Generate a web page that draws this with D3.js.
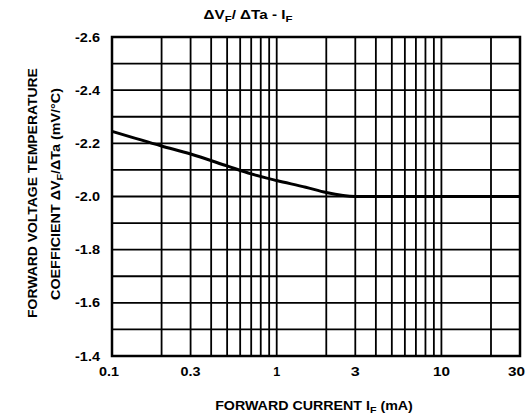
<!DOCTYPE html>
<html><head><meta charset="utf-8">
<script src="https://cdn.jsdelivr.net/npm/d3@7"></script>
<style>body{margin:0;background:#fff}svg{display:block}text{font-family:"Liberation Sans",Arial,sans-serif;font-weight:bold;fill:#000}</style>
</head><body><svg id="c" width="526" height="420"></svg>
<script>
const xTickLabels = [0.1, 0.3, 1, 3, 10, 30];
const xGrid = [0.1,0.2,0.3,0.4,0.5,0.6,0.7,0.8,0.9,1,2,3,4,5,6,7,8,9,10,20,30];
const yTickLabels = [-2.6,-2.4,-2.2,-2.0,-1.8,-1.6,-1.4];
const yGrid = [-2.6,-2.5,-2.4,-2.3,-2.2,-2.1,-2.0,-1.9,-1.8,-1.7,-1.6,-1.5,-1.4];
const currentMA = [0.1, 0.2, 0.3, 0.5, 0.7, 1, 1.5, 2, 3, 10, 30];
const coeff = [-2.245, -2.19, -2.16, -2.115, -2.085, -2.06, -2.035, -2.015, -2.0, -2.0, -2.0];

const svg = d3.select("#c");
const L=112,R=520,T=37,B=356;
const x = d3.scaleLog().domain([0.1,30]).range([L,R]);
const y = d3.scaleLinear().domain([-2.6,-1.4]).range([T,B]);

const g = svg.append("g");
g.selectAll(".vg").data(xGrid).enter().append("line")
 .attr("x1",d=>x(d)).attr("x2",d=>x(d)).attr("y1",T).attr("y2",B)
 .attr("stroke","#000").attr("stroke-width",1.8);
g.selectAll(".hg").data(yGrid).enter().append("line")
 .attr("x1",L).attr("x2",R).attr("y1",d=>y(d)).attr("y2",d=>y(d))
 .attr("stroke","#000").attr("stroke-width",1.8);
g.append("rect").attr("x",L).attr("y",T).attr("width",R-L).attr("height",B-T)
 .attr("fill","none").attr("stroke","#000").attr("stroke-width",2.5);

const line = d3.line().x((d,i)=>x(currentMA[i])).y(d=>y(d)).curve(d3.curveMonotoneX);
g.append("path").attr("d",line(coeff)).attr("fill","none").attr("stroke","#000").attr("stroke-width",3);

function stretched(tx, ty, rot, anchor, size, target, build){
  const outer = svg.append("g").attr("transform",`translate(${tx},${ty}) rotate(${rot})`);
  const inner = outer.append("g");
  const t = inner.append("text").attr("text-anchor",anchor).attr("font-size",size);
  build(t);
  const w = t.node().getComputedTextLength();
  inner.attr("transform",`scale(${target/w},1)`);
  return t;
}

yTickLabels.forEach(v=>{
  stretched(100, y(v)+4.5, 0, "end", 12, 25, t=>t.text(v.toFixed(1).replace("\u2212","-")));
});
const xTarget = {"0.1":20,"0.3":20,"1":7,"3":9,"10":17,"30":17};
xTickLabels.forEach(v=>{
  if (v===30) stretched(525, 376, 0, "end", 12, xTarget["30"], t=>t.text(String(v)));
  else stretched(x(v)-(v===0.1?3:0), 376, 0, "middle", 12, xTarget[String(v)], t=>t.text(String(v)));
});

stretched(248, 19, 0, "middle", 12, 89, t=>{
  t.append("tspan").text("ΔV");
  t.append("tspan").attr("font-size",9).attr("dy",3).text("F");
  t.append("tspan").attr("dy",-3).text("/ ΔTa - I");
  t.append("tspan").attr("font-size",9).attr("dy",3).text("F");
});

stretched(314, 410, 0, "middle", 12, 198, t=>{
  t.append("tspan").text("FORWARD CURRENT I");
  t.append("tspan").attr("font-size",9).attr("dy",3).text("F");
  t.append("tspan").attr("dy",-3).text(" (mA)");
});

stretched(37, 193, -90, "middle", 12, 250, t=>t.text("FORWARD VOLTAGE TEMPERATURE"));
stretched(60, 194, -90, "middle", 12, 212, t=>{
  t.append("tspan").text("COEFFICIENT ΔV");
  t.append("tspan").attr("font-size",9).attr("dy",3).text("F");
  t.append("tspan").attr("dy",-3).text("/ΔTa (mV/°C)");
});
</script></body></html>
